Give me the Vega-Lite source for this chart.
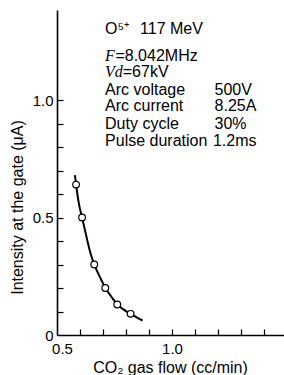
{
  "$schema": "https://vega.github.io/schema/vega-lite/v6.json",
  "autosize": {"type": "none"},
  "padding": {"left": 57, "top": 10, "right": 0, "bottom": 40},
  "width": 227,
  "height": 325,
  "background": "white",
  "config": {
    "view": {"stroke": null},
    "font": "Liberation Sans",
    "axis": {"grid": false, "domainColor": "black", "domainWidth": 1.6, "tickColor": "black", "tickWidth": 1.2, "labelColor": "black", "titleColor": "black", "labelFont": "Liberation Sans", "titleFont": "Liberation Sans", "labelFontSize": 15, "titleFontSize": 16, "titleFontWeight": "normal", "labelOverlap": false}
  },
  "resolve": {"axis": {"x": "independent", "y": "independent"}},
  "datasets": {
    "curve": [
      {"flow": 0.578, "intensity": 0.68},
      {"flow": 0.583, "intensity": 0.64},
      {"flow": 0.595, "intensity": 0.56},
      {"flow": 0.609, "intensity": 0.50},
      {"flow": 0.630, "intensity": 0.41},
      {"flow": 0.645, "intensity": 0.35},
      {"flow": 0.662, "intensity": 0.30},
      {"flow": 0.690, "intensity": 0.24},
      {"flow": 0.710, "intensity": 0.20},
      {"flow": 0.735, "intensity": 0.165},
      {"flow": 0.762, "intensity": 0.13},
      {"flow": 0.790, "intensity": 0.108},
      {"flow": 0.820, "intensity": 0.09},
      {"flow": 0.850, "intensity": 0.073},
      {"flow": 0.872, "intensity": 0.061}
    ],
    "measured": [
      {"flow": 0.583, "intensity": 0.64},
      {"flow": 0.609, "intensity": 0.50},
      {"flow": 0.662, "intensity": 0.30},
      {"flow": 0.710, "intensity": 0.20},
      {"flow": 0.762, "intensity": 0.13},
      {"flow": 0.820, "intensity": 0.09}
    ],
    "notes": [
      {"kind": "plain", "x": 0.709, "y": 1.302, "text": "O⁵⁺"},
      {"kind": "plain", "x": 0.861, "y": 1.302, "text": "117 MeV"},
      {"kind": "symbol", "x": 0.709, "y": 1.186, "text": "F"},
      {"kind": "plain", "x": 0.754, "y": 1.186, "text": "=8.042MHz"},
      {"kind": "symbol", "x": 0.709, "y": 1.120, "text": "Vd"},
      {"kind": "plain", "x": 0.786, "y": 1.120, "text": "=67kV"},
      {"kind": "plain", "x": 0.709, "y": 1.042, "text": "Arc voltage"},
      {"kind": "plain", "x": 1.185, "y": 1.042, "text": "500V"},
      {"kind": "plain", "x": 0.709, "y": 0.974, "text": "Arc current"},
      {"kind": "plain", "x": 1.185, "y": 0.974, "text": "8.25A"},
      {"kind": "plain", "x": 0.709, "y": 0.897, "text": "Duty cycle"},
      {"kind": "plain", "x": 1.185, "y": 0.897, "text": "30%"},
      {"kind": "plain", "x": 0.709, "y": 0.825, "text": "Pulse duration"},
      {"kind": "plain", "x": 1.178, "y": 0.825, "text": "1.2ms"}
    ]
  },
  "layer": [
    {
      "data": {"name": "curve"},
      "mark": {"type": "line", "interpolate": "monotone", "color": "black", "strokeWidth": 2},
      "encoding": {
        "x": {"field": "flow", "type": "quantitative", "scale": {"domain": [0.5, 1.487], "nice": false, "zero": false},
          "axis": {"orient": "bottom", "values": [0.5, 1.0], "ticks": false, "labelPadding": 6, "labelOverlap": false, "labelFlush": false,
            "labelOffset": {"condition": {"test": "datum.value < 0.75", "value": 5}, "value": 0},
            "labelExpr": "datum.value < 0.75 ? '0.5' : '1.0'",
            "title": "CO₂ gas flow (cc/min)", "titleX": 113, "titleY": 32, "titleBaseline": "middle", "titleAnchor": "middle"}},
        "y": {"field": "intensity", "type": "quantitative", "scale": {"domain": [0, 1.383], "nice": false, "zero": true},
          "axis": {"orient": "left", "values": [0, 0.5, 1.0], "ticks": false, "labelPadding": 4, "labelOverlap": false,
            "labelExpr": "datum.value == 0 ? '0' : (datum.value < 0.75 ? '0.5' : '1.0')",
            "title": "Intensity at the gate (μA)", "titleX": -40, "titleY": 197, "titleBaseline": "middle", "titleAnchor": "middle"}}
      }
    },
    {
      "data": {"name": "measured"},
      "mark": {"type": "point", "filled": true, "fill": "white", "stroke": "black", "strokeWidth": 1.2, "size": 45, "opacity": 1},
      "encoding": {
        "x": {"field": "flow", "type": "quantitative",
          "axis": {"orient": "top", "offset": -325, "values": [0.6, 0.7, 0.8, 0.9, 1.0, 1.1, 1.2, 1.3, 1.4], "ticks": true, "tickSize": 6, "labels": false, "domain": false, "title": null}},
        "y": {"field": "intensity", "type": "quantitative",
          "axis": {"orient": "right", "offset": -227, "values": [0.1, 0.2, 0.3, 0.4, 0.5, 0.6, 0.7, 0.8, 0.9, 1.0], "ticks": true, "tickSize": 6, "labels": false, "domain": false, "title": null}}
      }
    },
    {
      "data": {"name": "notes"},
      "transform": [{"filter": "datum.kind == 'plain'"}],
      "mark": {"type": "text", "align": "left", "baseline": "middle", "fontSize": 16, "font": "Liberation Sans", "color": "black"},
      "encoding": {
        "x": {"field": "x", "type": "quantitative", "axis": null},
        "y": {"field": "y", "type": "quantitative", "axis": null},
        "text": {"field": "text"}
      }
    },
    {
      "data": {"name": "notes"},
      "transform": [{"filter": "datum.kind == 'symbol'"}],
      "mark": {"type": "text", "align": "left", "baseline": "middle", "fontSize": 16, "font": "Liberation Serif", "fontStyle": "italic", "color": "black"},
      "encoding": {
        "x": {"field": "x", "type": "quantitative", "axis": null},
        "y": {"field": "y", "type": "quantitative", "axis": null},
        "text": {"field": "text"}
      }
    }
  ]
}
